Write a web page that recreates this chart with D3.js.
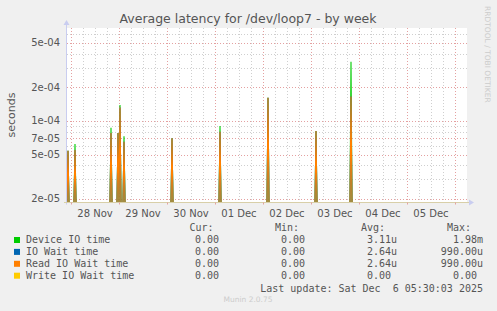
<!DOCTYPE html>
<html><head><meta charset="utf-8">
<script src="https://cdn.jsdelivr.net/npm/d3@7"></script>
<style>
body{margin:0;background:#f0f0f0}
svg{display:block}
text{white-space:pre}
</style>
</head><body>
<svg id="c" width="497" height="311"></svg>
<script>
// ---- data ----
const spikeTimes = [
  "2025-11-27T22:30Z","2025-11-28T02:00Z","2025-11-28T20:00Z","2025-11-28T23:30Z",
  "2025-11-29T00:30Z","2025-11-29T02:30Z","2025-11-30T02:30Z","2025-12-01T02:30Z",
  "2025-12-02T02:30Z","2025-12-03T02:30Z","2025-12-03T20:00Z"
];
const deviceIOTime    = [5.4e-5, 6.2e-5, 8.7e-5, 7.8e-5, 1.39e-4, 7.3e-5, 7.0e-5, 9.0e-5, 1.61e-4, 8.1e-5, 3.38e-4];
const ioWaitTime      = [5.4e-5, 5.5e-5, 7.8e-5, 7.8e-5, 1.32e-4, 6.5e-5, 7.0e-5, 8.0e-5, 1.61e-4, 8.1e-5, 1.65e-4];
const readIOWaitTime  = [5.4e-5, 5.5e-5, 7.8e-5, 7.8e-5, 1.32e-4, 6.5e-5, 7.0e-5, 8.0e-5, 1.61e-4, 8.1e-5, 1.65e-4];
const writeIOWaitTime = [0, 0, 0, 0, 0, 0, 0, 0, 0, 0, 0];

const seriesNames  = ["Device IO time", "IO Wait time", "Read IO Wait time", "Write IO Wait time"];
const seriesColors = ["#00cc00", "#0066b3", "#ff8000", "#ffcc00"];
const curValues = ["0.00", "0.00", "0.00", "0.00"];
const minValues = ["0.00", "0.00", "0.00", "0.00"];
const avgValues = ["3.11u", "2.64u", "2.64u", "0.00"];
const maxValues = ["1.98m", "990.00u", "990.00u", "0.00"];

const yMajorTicks  = [2e-5, 5e-5, 7e-5, 1e-4, 2e-4, 5e-4];
const yMajorLabels = ["2e-05", "5e-05", "7e-05", "1e-04", "2e-04", "5e-04"];
const yMinorTicks  = [3e-5, 4e-5, 6e-5, 8e-5, 9e-5, 3e-4, 4e-4, 6e-4];
const xDayLabels   = ["28 Nov", "29 Nov", "30 Nov", "01 Dec", "02 Dec", "03 Dec", "04 Dec", "05 Dec"];

const timeStart = "2025-11-27T22:00Z";
const timeEnd   = "2025-12-06T06:00Z";
const stepMinutes = 30;

// ---- layout ----
const L = 67, R = 467, T = 28, B = 202.5;
const svg = d3.select("#c");
const x = d3.scaleUtc().domain([new Date(timeStart), new Date(timeEnd)]).range([L, R]);
const y = d3.scaleLog().domain([1.86e-5, 6.78e-4]).range([B, T]).clamp(true);

svg.append("rect").attr("width", 497).attr("height", 311).attr("fill", "#f0f0f0");
svg.append("rect").attr("x", L).attr("y", T).attr("width", R - L).attr("height", B - T).attr("fill", "#fff");

const minorCol = "#cfcfcf", majorCol = "#e4a0a0";
const grid = svg.append("g");
// vertical grid: every 6 h, red at midnight
const hours = d3.utcHour.every(6).range(new Date(timeStart), new Date(timeEnd));
hours.forEach(h => {
  const xx = Math.round(x(h)) + 0.5;
  const major = h.getUTCHours() === 0;
  grid.append("line").attr("x1", xx).attr("x2", xx).attr("y1", T).attr("y2", B)
    .attr("stroke", major ? majorCol : minorCol).attr("stroke-dasharray", "1,2");
});
yMinorTicks.forEach(v => {
  const yy = Math.round(y(v)) + 0.5;
  grid.append("line").attr("x1", L).attr("x2", R).attr("y1", yy).attr("y2", yy)
    .attr("stroke", minorCol).attr("stroke-dasharray", "1,2");
});
yMajorTicks.forEach(v => {
  const yy = Math.round(y(v)) + 0.5;
  grid.append("line").attr("x1", L).attr("x2", R).attr("y1", yy).attr("y2", yy)
    .attr("stroke", majorCol).attr("stroke-dasharray", "1,2");
});

// ---- series ----
svg.append("clipPath").attr("id", "clip").append("rect")
  .attr("x", L).attr("y", T).attr("width", R - L).attr("height", B - T + 1);
const step = stepMinutes * 60000;
function buildPoints(vals) {
  const pts = [{t: new Date(timeStart), v: 0}];
  spikeTimes.forEach((s, i) => {
    const t = new Date(s);
    pts.push({t: new Date(+t - step), v: 0});
    pts.push({t: t, v: vals[i]});
    pts.push({t: new Date(+t + step), v: 0});
  });
  pts.push({t: new Date(timeEnd), v: 0});
  return pts;
}
const line = d3.line().x(d => x(d.t)).y(d => y(Math.max(d.v, 1e-12)));
const allSeries = [deviceIOTime, ioWaitTime, readIOWaitTime, writeIOWaitTime];
const sg = svg.append("g").attr("clip-path", "url(#clip)");
allSeries.forEach((vals, i) => {
  sg.append("path").attr("d", line(buildPoints(vals))).attr("fill", "none")
    .attr("stroke", seriesColors[i]).attr("stroke-width", 1.1);
});

// ---- axes ----
const axisCol = "#c9cdf0";
svg.append("line").attr("x1", L - 0.5).attr("x2", L - 0.5).attr("y1", B + 2).attr("y2", T - 4)
  .attr("stroke", axisCol);
svg.append("path").attr("d", `M${L - 3.5},${T - 3} L${L - 0.5},${T - 8} L${L + 2.5},${T - 3} Z`).attr("fill", axisCol);
svg.append("line").attr("x1", L - 3).attr("x2", R + 3).attr("y1", B).attr("y2", B)
  .attr("stroke", "#d8cfa8");
svg.append("path").attr("d", `M${R + 2},${B - 3} L${R + 7},${B} L${R + 2},${B + 3} Z`).attr("fill", axisCol);

// tick marks on x axis
d3.utcDay.every(1).range(new Date(timeStart), new Date(timeEnd)).forEach(d => {
  const xx = Math.round(x(d)) + 0.5;
  svg.append("line").attr("x1", xx).attr("x2", xx).attr("y1", B).attr("y2", B + 2).attr("stroke", majorCol);
});

const textCol = "#555";
const days = d3.utcDay.range(new Date("2025-11-28T00:00Z"), new Date("2025-12-06T00:00Z"));
days.forEach((d, i) => {
  svg.append("text").attr("x", x(d3.utcHour.offset(d, 12))).attr("y", 216.5)
    .attr("text-anchor", "middle").attr("font-family", "DejaVu Sans").attr("font-size", 10)
    .attr("fill", textCol).text(xDayLabels[i]);
});
yMajorTicks.forEach((v, i) => {
  svg.append("text").attr("x", 60).attr("y", y(v) + 3.5).attr("text-anchor", "end")
    .attr("font-family", "DejaVu Sans").attr("font-size", 10).attr("fill", textCol).text(yMajorLabels[i]);
});

// title & labels
svg.append("text").attr("x", 248).attr("y", 23).attr("text-anchor", "middle")
  .attr("font-family", "DejaVu Sans").attr("font-size", 12.5).attr("fill", textCol)
  .text("Average latency for /dev/loop7 - by week");
svg.append("text").attr("transform", "translate(15,115) rotate(-90)").attr("text-anchor", "middle")
  .attr("font-family", "DejaVu Sans").attr("font-size", 11).attr("fill", textCol).text("seconds");
svg.append("text").attr("transform", "translate(485,6) rotate(90)").attr("text-anchor", "start")
  .attr("font-family", "DejaVu Sans").attr("font-size", 7.5).attr("fill", "#cccccc").text("RRDTOOL / TOBI OETIKER");

// ---- legend ----
const mono = "DejaVu Sans Mono";
const lg = svg.append("g").attr("font-family", mono).attr("font-size", 10).attr("fill", textCol);
[["Cur:", 213.5], ["Min:", 299], ["Avg:", 385], ["Max:", 471]].forEach(([t, xx]) => {
  lg.append("text").attr("x", xx).attr("y", 231).attr("text-anchor", "end").text(t);
});
const nb = s => /[a-z]$/.test(s) ? s : s + "\u00a0";
seriesNames.forEach((n, i) => {
  const yy = 243.3 + i * 11.9;
  svg.append("rect").attr("x", 14).attr("y", yy - 6.3).attr("width", 6).attr("height", 6).attr("fill", seriesColors[i]);
  lg.append("text").attr("x", 26).attr("y", yy).text(n);
  lg.append("text").attr("x", 225).attr("y", yy).attr("text-anchor", "end").text(nb(curValues[i]));
  lg.append("text").attr("x", 311).attr("y", yy).attr("text-anchor", "end").text(nb(minValues[i]));
  lg.append("text").attr("x", 397).attr("y", yy).attr("text-anchor", "end").text(nb(avgValues[i]));
  lg.append("text").attr("x", 483).attr("y", yy).attr("text-anchor", "end").text(nb(maxValues[i]));
});
lg.append("text").attr("x", 483).attr("y", 291.5).attr("text-anchor", "end")
  .text("Last update: Sat Dec  6 05:30:03 2025");
svg.append("text").attr("x", 248).attr("y", 302).attr("text-anchor", "middle")
  .attr("font-family", "DejaVu Sans").attr("font-size", 7.5).attr("fill", "#cccccc").text("Munin 2.0.75");
</script>
</body></html>
